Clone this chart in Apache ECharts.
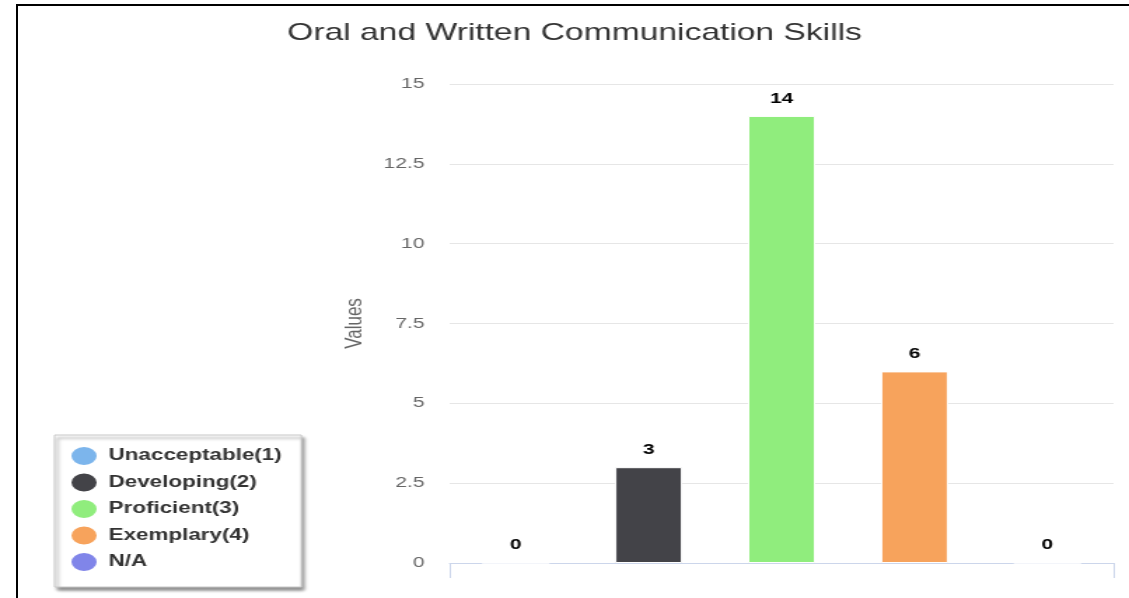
<!DOCTYPE html>
<html>
<head>
<meta charset="utf-8">
<script src="https://cdn.jsdelivr.net/npm/echarts@6/dist/echarts.min.js"></script>
<style>
  html, body { margin: 0; padding: 0; background: #fff; overflow: hidden; }
  .frame {
    position: absolute; left: 16px; top: 4px; right: 0; bottom: 0;
    border-left: 2px solid #000; border-top: 2px solid #000;
    pointer-events: none; z-index: 2;
  }
  /* the source picture is stretched sideways, so the chart is too */
  #chart {
    position: absolute; left: 0; top: 0;
    width: 806px; height: 598px;
    transform: scaleX(1.4007); transform-origin: 0 0;
  }
</style>
</head>
<body>
<div id="chart"></div>
<div class="frame"></div>
<script>
const categories = ['']
const seriesNames = ['Unacceptable(1)', 'Developing(2)', 'Proficient(3)', 'Exemplary(4)', 'N/A']
const seriesValues = [0, 3, 14, 6, 0]
const seriesColors = ['#7cb5ec', '#434348', '#90ed7d', '#f7a35c', '#8085e9']
const yTicks = { min: 0, max: 15, interval: 2.5 }

const fontFamily = '"Liberation Sans", Arial, Helvetica, sans-serif'

const chart = echarts.init(document.getElementById('chart'))

const series = seriesNames.map((name, i) => ({
  name,
  type: 'bar',
  data: [seriesValues[i]],
  barWidth: 48,
  barGap: '97.7%',
  itemStyle: {
    color: seriesColors[i],
    borderColor: '#ffffff',
    borderWidth: 1,
  },
  label: {
    show: true,
    position: 'top',
    distance: 10,
    color: '#000',
    fontSize: 15,
    fontWeight: 'bold',
    fontFamily,
  },
  emphasis: { disabled: true },
}))

chart.setOption({
  animation: false,
  color: seriesColors,
  title: {
    text: 'Oral and Written Communication Skills',
    left: 205,
    top: 21,
    padding: 0,
    textStyle: {
      color: '#333',
      fontSize: 24,
      fontWeight: 'normal',
      fontFamily,
    },
  },
  legend: {
    orient: 'vertical',
    left: 39,
    top: 435,
    padding: [10, 14, 14, 10],
    itemGap: 4.5,
    itemWidth: 20,
    itemHeight: 20,
    icon: 'circle',
    backgroundColor: '#fff',
    borderColor: '#c8c8c8',
    borderWidth: 1,
    shadowColor: 'rgba(0, 0, 0, 0.45)',
    shadowBlur: 3,
    shadowOffsetX: 2,
    shadowOffsetY: 3,
    textStyle: {
      color: '#333',
      fontSize: 16,
      fontWeight: 'bold',
      fontFamily,
      padding: [0, 0, 0, 2.5],
    },
    data: seriesNames,
  },
  grid: {
    left: 321,
    right: 11,
    top: 84,
    bottom: 35,
  },
  xAxis: {
    type: 'category',
    data: categories,
    axisLine: { lineStyle: { color: '#ccd6eb', width: 1 } },
    axisTick: { show: true, length: 15, lineStyle: { color: '#ccd6eb' } },
    axisLabel: { show: false },
  },
  yAxis: {
    type: 'value',
    min: yTicks.min,
    max: yTicks.max,
    interval: yTicks.interval,
    name: 'Values',
    nameLocation: 'middle',
    nameGap: 59,
    nameTextStyle: {
      color: '#666',
      fontSize: 17,
      fontFamily,
    },
    axisLine: { show: false },
    axisTick: { show: false },
    axisLabel: {
      color: '#666',
      fontSize: 15,
      margin: 18,
      fontFamily,
    },
    splitLine: { lineStyle: { color: '#e6e6e6', width: 1 } },
  },
  series,
})
</script>
</body>
</html>
